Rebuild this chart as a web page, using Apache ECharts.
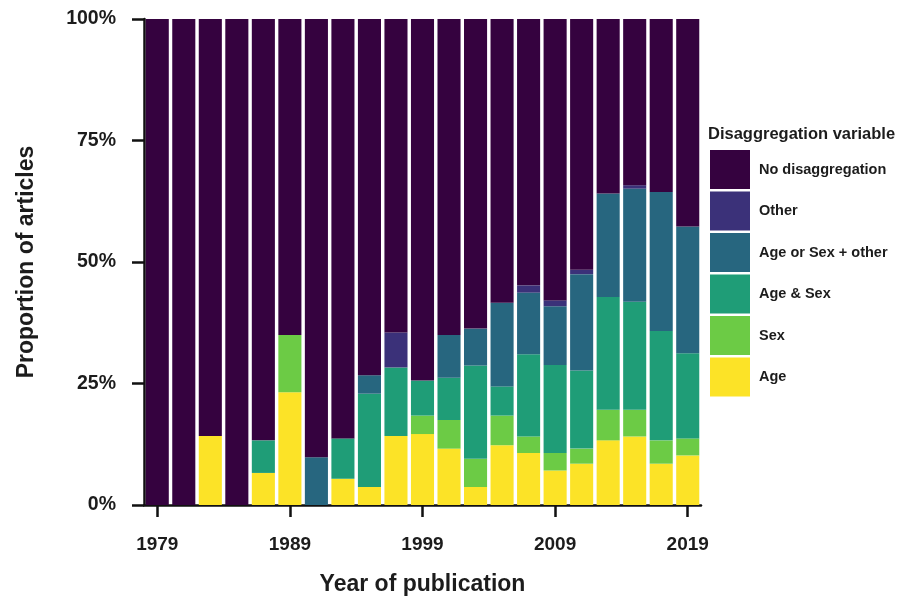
<!DOCTYPE html>
<html>
<head>
<meta charset="utf-8">
<title>Disaggregation variable by year of publication</title>
<script src="https://cdn.jsdelivr.net/npm/echarts@6/dist/echarts.min.js"></script>
<style>
  html, body { margin: 0; padding: 0; background: #ffffff; }
  #chart { width: 903px; height: 602px; }
</style>
</head>
<body>
<div id="chart"></div>
<script>
// Publication years (two-year bins)
const years = ['1979','1981','1983','1985','1987','1989','1991','1993','1995','1997','1999',
               '2001','2003','2005','2007','2009','2011','2013','2015','2017','2019'];

// Share of articles (%) per disaggregation variable
const age        = [0, 0, 14.2, 0, 6.6, 23.2, 0, 5.4, 3.7, 14.2, 14.6, 11.6, 3.7, 12.3, 10.7, 7.1, 8.5, 13.3, 14.1, 8.5, 10.2];
const sex        = [0, 0, 0, 0, 0, 11.8, 0, 0, 0, 0, 3.8, 5.9, 5.8, 6.1, 3.4, 3.6, 3.1, 6.3, 5.5, 4.8, 3.5];
const ageAndSex  = [0, 0, 0, 0, 6.7, 0, 0, 8.3, 19.2, 14.1, 7.2, 8.7, 19.2, 6.0, 16.9, 18.1, 16.1, 23.2, 22.2, 22.5, 17.5];
const ageOrSexPlusOther = [0, 0, 0, 0, 0, 0, 9.8, 0, 3.8, 0, 0, 8.8, 7.6, 17.2, 12.7, 12.1, 19.8, 21.3, 23.3, 28.6, 26.1];
const other      = [0, 0, 0, 0, 0, 0, 0, 0, 0, 7.2, 0, 0, 0, 0, 1.5, 1.2, 0.9, 0, 0.7, 0, 0];
const noDisagg   = [100, 100, 85.8, 100, 86.7, 65.0, 90.2, 86.3, 73.3, 64.5, 74.4, 65.0, 63.7, 58.4, 54.8, 57.9, 51.6, 35.9, 34.2, 35.6, 42.7];

// Y-axis ticks
const yTicks = [0, 25, 50, 75, 100];

const FONT = '"Liberation Sans", Arial, Helvetica, sans-serif';
const INK = '#1c1c1c';

// Stacking order: bottom to top
const layers = [
  { name: 'Age',                data: age,               color: '#fce327' },
  { name: 'Sex',                data: sex,               color: '#6ccb45' },
  { name: 'Age & Sex',          data: ageAndSex,         color: '#1f9d77' },
  { name: 'Age or Sex + other', data: ageOrSexPlusOther, color: '#27667f' },
  { name: 'Other',              data: other,             color: '#3b3179' },
  { name: 'No disaggregation',  data: noDisagg,          color: '#35023f' }
];

const chart = echarts.init(document.getElementById('chart'), null, { renderer: 'canvas' });

chart.setOption({
  animation: false,
  backgroundColor: '#ffffff',
  textStyle: { fontFamily: FONT },
  grid: { left: 144, right: 202, top: 19, bottom: 97, containLabel: false },
  graphic: [{
    type: 'text',
    left: 708,
    top: 126,
    style: {
      text: 'Disaggregation variable',
      font: 'bold 16.5px ' + FONT,
      fill: INK
    }
  }],
  legend: {
    orient: 'vertical',
    left: 710,
    top: 150,
    padding: 0,
    itemWidth: 40,
    itemHeight: 39,
    itemGap: 2.5,
    icon: 'rect',
    data: ['No disaggregation', 'Other', 'Age or Sex + other', 'Age & Sex', 'Sex', 'Age'],
    textStyle: {
      fontFamily: FONT,
      fontWeight: 'bold',
      fontSize: 14.5,
      color: INK,
      padding: [0, 0, 0, 4]
    },
    selectedMode: false
  },
  xAxis: {
    type: 'category',
    data: years,
    name: 'Year of publication',
    nameLocation: 'middle',
    nameGap: 68,
    nameTextStyle: { fontFamily: FONT, fontWeight: 'bold', fontSize: 23, color: INK },
    axisLine: { show: true, lineStyle: { color: '#111', width: 2.5 } },
    axisTick: { show: true, interval: 4, alignWithLabel: true, length: 12, lineStyle: { color: '#111', width: 2.5 } },
    axisLabel: {
      interval: 4,
      margin: 30,
      fontFamily: FONT,
      fontWeight: 'bold',
      fontSize: 19,
      color: INK
    },
    splitLine: { show: false }
  },
  yAxis: {
    type: 'value',
    min: yTicks[0],
    max: yTicks[yTicks.length - 1],
    interval: yTicks[1] - yTicks[0],
    name: 'Proportion of articles',
    nameLocation: 'middle',
    nameGap: 106,
    nameTextStyle: { fontFamily: FONT, fontWeight: 'bold', fontSize: 23, color: INK },
    axisLine: { show: true, lineStyle: { color: '#111', width: 2.5 } },
    axisTick: { show: true, length: 12, lineStyle: { color: '#111', width: 2.5 } },
    axisLabel: {
      formatter: '{value}%',
      margin: 28,
      fontFamily: FONT,
      fontWeight: 'bold',
      fontSize: 19.5,
      color: INK
    },
    splitLine: { show: false }
  },
  series: layers.map(l => ({
    name: l.name,
    type: 'bar',
    stack: 'share',
    data: l.data,
    barCategoryGap: '13%',
    itemStyle: { color: l.color, borderWidth: 0 },
    emphasis: { disabled: true }
  }))
});
</script>
</body>
</html>
